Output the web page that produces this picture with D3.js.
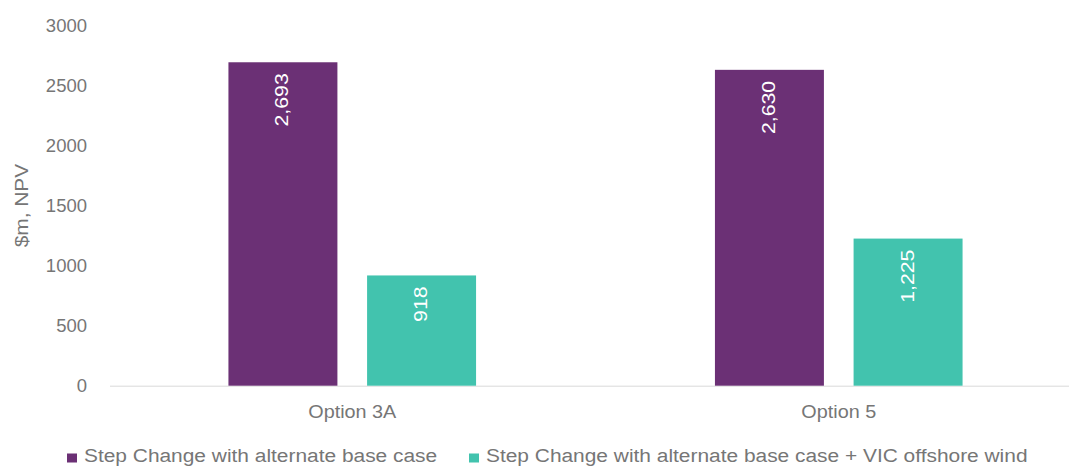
<!DOCTYPE html>
<html>
<head>
<meta charset="utf-8">
<script src="https://cdn.jsdelivr.net/npm/d3@7"></script>
<style>
  html, body { margin: 0; padding: 0; background: #fff; }
  svg { display: block; font-family: "Liberation Sans", Arial, sans-serif; }
</style>
</head>
<body>
<svg id="chart" width="1069" height="466"></svg>
<script>
const categories = ["Option 3A", "Option 5"];
const seriesNames = ["Step Change with alternate base case", "Step Change with alternate base case + VIC offshore wind"];
const seriesA = [2693, 2630];
const seriesB = [918, 1225];
const yTicks = [0, 500, 1000, 1500, 2000, 2500, 3000];
const colors = ["#6B3075", "#42C3AE"];

const svg = d3.select("#chart");
const W = 1069, H = 466;
const plot = { left: 109, right: 1082, top: 25.4, bottom: 385.7 };
const wide = 1.1; // horizontal glyph widening to match reference face

const y = d3.scaleLinear().domain([0, 3000]).range([plot.bottom, plot.top]);
const x0 = d3.scaleBand().domain(categories).range([plot.left, plot.right]).padding(0);
const bw = x0.bandwidth();
const x1 = d3.scaleBand().domain(seriesNames).range([bw * 0.2455, bw * 0.7545]).paddingInner(0.214);

// y axis
const yAxis = svg.append("g")
  .attr("transform", `translate(${plot.left},0)`)
  .call(d3.axisLeft(y).tickValues(yTicks).tickSize(0).tickPadding(22).tickFormat(d3.format("d")));
yAxis.select(".domain").remove();
yAxis.selectAll("text")
  .attr("fill", "#767676")
  .style("font-size", "18.5px")
  .style("font-family", "'Liberation Sans', Arial, sans-serif");

// baseline
svg.append("line")
  .attr("x1", 110).attr("x2", W)
  .attr("y1", y(0) + 0.5).attr("y2", y(0) + 0.5)
  .attr("stroke", "#d9d9d9").attr("stroke-width", 1);

// y title
svg.append("text")
  .attr("transform", `translate(28,${(plot.top + plot.bottom) / 2}) rotate(-90) scale(${wide},1)`)
  .attr("text-anchor", "middle")
  .attr("fill", "#767676")
  .style("font-size", "19px")
  .text("$m, NPV");

// bars
const rows = categories.map((c, i) => ({ cat: c, vals: [seriesA[i], seriesB[i]] }));
const groups = svg.selectAll("g.grp").data(rows).join("g")
  .attr("class", "grp")
  .attr("transform", d => `translate(${x0(d.cat)},0)`);

groups.selectAll("rect").data(d => d.vals.map((v, j) => ({ s: seriesNames[j], v, j })))
  .join("rect")
  .attr("x", d => x1(d.s))
  .attr("width", x1.bandwidth())
  .attr("y", d => y(d.v))
  .attr("height", d => y(0) - y(d.v))
  .attr("fill", d => colors[d.j]);

const fmt = d3.format(",");
groups.selectAll("text.lbl").data(d => d.vals.map((v, j) => ({ s: seriesNames[j], v, j })))
  .join("text")
  .attr("class", "lbl")
  .attr("transform", d => `translate(${x1(d.s) + x1.bandwidth() / 2 + 5.5},${y(d.v) + 11}) rotate(-90) scale(1.12,1)`)
  .attr("text-anchor", "end")
  .attr("fill", "#ffffff")
  .style("font-size", "19px")
  .text(d => fmt(d.v));

// category labels
svg.selectAll("text.cat").data(categories).join("text")
  .attr("class", "cat")
  .attr("transform", d => `translate(${x0(d) + bw / 2},418) scale(${wide},1)`)
  .attr("text-anchor", "middle")
  .attr("fill", "#767676")
  .style("font-size", "18px")
  .text(d => d);

// legend
const legendX = [67, 469];
const leg = svg.selectAll("g.leg").data(seriesNames).join("g")
  .attr("class", "leg")
  .attr("transform", (d, i) => `translate(${legendX[i]},0)`);
leg.append("rect").attr("x", 0).attr("y", 453.5).attr("width", 10).attr("height", 9)
  .attr("fill", (d, i) => colors[i]);
leg.append("text")
  .attr("transform", `translate(17,462) scale(${wide},1)`)
  .attr("fill", "#767676")
  .style("font-size", "19px")
  .text(d => d);
</script>
</body>
</html>
